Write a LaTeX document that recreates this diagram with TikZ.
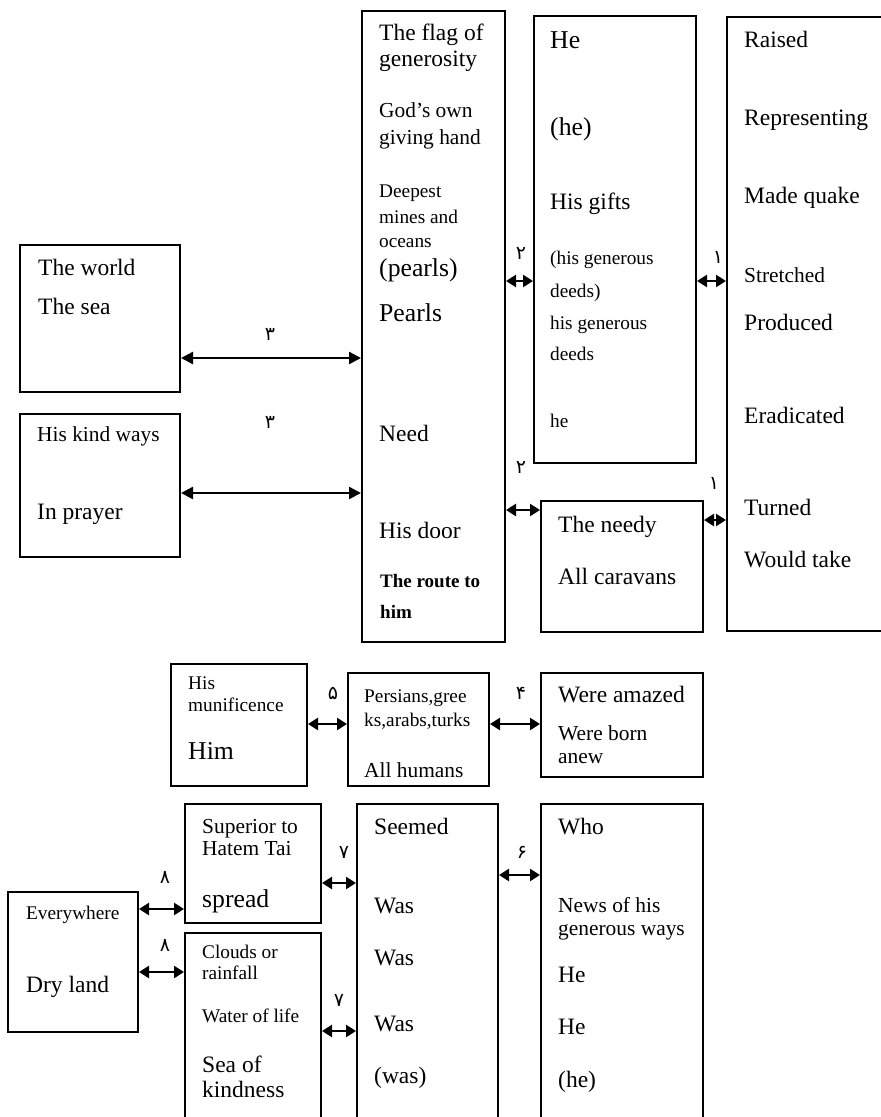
\documentclass[tikz,border=0pt]{standalone}
\usepackage{fontspec}
\setmainfont{Liberation Serif}
\newfontfamily\arabicfont[Script=Arabic]{DejaVu Sans}
\usepackage{tikz}
\usetikzlibrary{arrows.meta}
\usetikzlibrary{fit}
\usetikzlibrary{positioning}

\begin{document}
\begin{tikzpicture}[%
    x=1pt, y=-1pt,
    frame/.style={draw,line width=2pt,inner sep=0pt},
    word/.style={anchor=base west,inner sep=0pt,font=\fontsize{23.5}{28}\selectfont},
    small/.style={word,font=\fontsize{19.3}{23}\selectfont},
    mid/.style={word,font=\fontsize{21.4}{26}\selectfont},
    big/.style={word,font=\fontsize{25.7}{30}\selectfont},
    num/.style={inner sep=0pt,font=\arabicfont\fontsize{19}{20}\selectfont},
    link/.style={draw,line width=2.4pt,{Triangle[length=10pt,width=12pt]}-{Triangle[length=10pt,width=12pt]}},
    longlink/.style={draw,line width=2.4pt,{Triangle[length=12pt,width=12pt]}-{Triangle[length=12pt,width=12pt]}}
]
        \useasboundingbox (0,0) rectangle (881,1117);
        \clip (0,0) rectangle (881,1117);

        % upper boxes
        \node[frame,fit={(362,11) (505,642)}] (flag) {};
        \node[frame,fit={(534,16) (696,463)}] (he) {};
        \node[frame,fit={(727,17) (900,631)}] (raised) {};
        \node[frame,fit={(20,245) (180,392)}] (world) {};
        \node[frame,fit={(20,414) (180,557)}] (kind) {};
        \node[frame,fit={(541,501) (703,632)}] (needy) {};

        \node[word] (flag1) at (379,40) {The flag of};
        \node[word] (flag2) at (379,66) {generosity};
        \node[mid] (flag3) at (379,117) {God’s own};
        \node[mid] (flag4) at (379,144) {giving hand};
        \node[small] (flag5) at (379,197) {Deepest};
        \node[small] (flag6) at (379,223) {mines and};
        \node[small] (flag7) at (379,247) {oceans};
        \node[big] (flag8) at (379,276) {(pearls)};
        \node[big] (flag9) at (379,321) {Pearls};
        \node[word] (flag10) at (379,441) {Need};
        \node[word] (flag11) at (379,538) {His door};
        \node[small,font=\fontsize{19}{23}\selectfont\bfseries] (flag12) at (380,587) {The route to};
        \node[small,font=\fontsize{19}{23}\selectfont\bfseries] (flag13) at (380,618) {him};

        \node[big] (he1) at (550,48) {He};
        \node[big] (he2) at (550,135) {(he)};
        \node[word] (he3) at (550,209) {His gifts};
        \node[small] (he4) at (550,264) {(his generous};
        \node[small] (he5) at (550,297) {deeds)};
        \node[small] (he6) at (550,329) {his generous};
        \node[small] (he7) at (550,360) {deeds};
        \node[small] (he8) at (550,427) {he};

        \node[word] (raised1) at (744,47) {Raised};
        \node[word] (raised2) at (744,125) {Representing};
        \node[word] (raised3) at (744,203) {Made quake};
        \node[mid] (raised4) at (744,282) {Stretched};
        \node[word] (raised5) at (744,330) {Produced};
        \node[word] (raised6) at (744,423) {Eradicated};
        \node[word] (raised7) at (744,515) {Turned};
        \node[word] (raised8) at (744,567) {Would take};

        \node[word] (world1) at (38,275) {The world};
        \node[word] (world2) at (38,314) {The sea};
        \node[mid] (kind1) at (37,441) {His kind ways};
        \node[word] (kind2) at (37,519) {In prayer};
        \node[word] (needy1) at (558,532) {The needy};
        \node[word] (needy2) at (558,584) {All caravans};

        \path[longlink] (world.east |- 0,358) -- (flag.west |- 0,358);
        \path[longlink] (kind.east |- 0,493) -- (flag.west |- 0,493);
        \path[link] (flag.east |- 0,281) -- (he.west |- 0,281);
        \path[link] (he.east |- 0,281) -- (raised.west |- 0,281);
        \path[link] (flag.east |- 0,510) -- (needy.west |- 0,510);
        \path[link] (needy.east |- 0,520) -- (raised.west |- 0,520);

        \node[num] (n3a) at (270,334) {۳};
        \node[num] (n3b) at (270,422) {۳};
        \node[num] (n2a) at (521,253) {۲};
        \node[num] (n1a) at (718,257) {۱};
        \node[num] (n2b) at (521,467) {۲};
        \node[num] (n1b) at (714,483) {۱};

        % middle row
        \node[frame,fit={(171,664) (307,786)}] (munif) {};
        \node[frame,fit={(348,673) (489,786)}] (persians) {};
        \node[frame,fit={(541,673) (703,777)}] (amazed) {};

        \node[small] (munif1) at (188,689) {His};
        \node[small] (munif2) at (188,711) {munificence};
        \node[big] (munif3) at (188,759) {Him};
        \node[small] (persians1) at (364,702) {Persians,gree};
        \node[small] (persians2) at (364,726) {ks,arabs,turks};
        \node[mid] (persians3) at (364,777) {All humans};
        \node[word] (amazed1) at (558,702) {Were amazed};
        \node[mid] (amazed2) at (558,740) {Were born};
        \node[mid] (amazed3) at (558,763) {anew};

        \path[link] (munif.east |- 0,724) -- (persians.west |- 0,724);
        \path[link] (persians.east |- 0,724) -- (amazed.west |- 0,724);
        \node[num] (n5) at (333,693) {۵};
        \node[num] (n4) at (521,693) {۴};

        % lower boxes
        \node[frame,fit={(185,804) (321,923)}] (superior) {};
        \node[frame,fit={(357,804) (498,1140)}] (seemed) {};
        \node[frame,fit={(541,804) (703,1140)}] (who) {};
        \node[frame,fit={(8,892) (138,1032)}] (every) {};
        \node[frame,fit={(185,933) (321,1140)}] (clouds) {};

        \node[mid] (superior1) at (202,833) {Superior to};
        \node[mid] (superior2) at (202,855) {Hatem Tai};
        \node[big] (superior3) at (202,907) {spread};
        \node[word] (seemed1) at (374,834) {Seemed};
        \node[word] (seemed2) at (374,913) {Was};
        \node[word] (seemed3) at (374,965) {Was};
        \node[word] (seemed4) at (374,1031) {Was};
        \node[word] (seemed5) at (374,1083) {(was)};
        \node[word] (who1) at (558,834) {Who};
        \node[mid] (who2) at (558,912) {News of his};
        \node[mid] (who3) at (558,935) {generous ways};
        \node[word] (who4) at (558,982) {He};
        \node[word] (who5) at (558,1034) {He};
        \node[word] (who6) at (558,1087) {(he)};
        \node[small] (every1) at (26,919) {Everywhere};
        \node[word] (every2) at (26,992) {Dry land};
        \node[small] (clouds1) at (202,958) {Clouds or};
        \node[small] (clouds2) at (202,979) {rainfall};
        \node[small] (clouds3) at (202,1022) {Water of life};
        \node[word] (clouds4) at (202,1072) {Sea of};
        \node[word] (clouds5) at (202,1097) {kindness};

        \path[link] (superior.east |- 0,883) -- (seemed.west |- 0,883);
        \path[link] (seemed.east |- 0,875) -- (who.west |- 0,875);
        \path[link] (every.east |- 0,909) -- (superior.west |- 0,909);
        \path[link] (every.east |- 0,972) -- (clouds.west |- 0,972);
        \path[link] (clouds.east |- 0,1031) -- (seemed.west |- 0,1031);

        \node[num] (n7a) at (344,852) {۷};
        \node[num] (n6) at (522,852) {۶};
        \node[num] (n8a) at (165,877) {۸};
        \node[num] (n8b) at (165,945) {۸};
        \node[num] (n7b) at (339,1000) {۷};
\end{tikzpicture}
\end{document}
